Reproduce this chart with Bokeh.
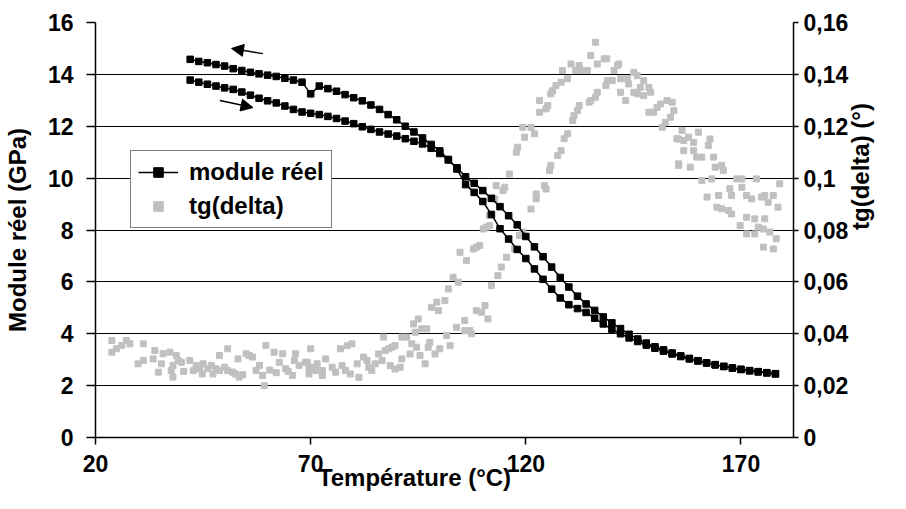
import math
from bokeh.plotting import figure
from bokeh.models import (Range1d, LinearAxis, FixedTicker, Arrow, NormalHead,
                          Legend, LegendItem)
from bokeh.embed import file_html
from bokeh.resources import INLINE

# ---------------- data ----------------
temperature = [42, 44, 46, 48, 50, 52, 54, 56, 58, 60, 62, 64, 66, 68, 70, 72, 74, 76,
               78, 80, 82, 84, 86, 88, 90, 92, 94, 96, 98, 100, 102, 104, 106, 108, 110,
               112, 114, 116, 118, 120, 122, 124, 126, 128, 130, 132, 134, 136, 138, 140,
               142, 144, 146, 148, 150, 152, 154, 156, 158, 160, 162, 164, 166, 168, 170,
               172, 174, 176, 178]

module_cooling = [14.58, 14.50, 14.45, 14.38, 14.32, 14.22, 14.15, 14.08, 14.02, 13.97,
                  13.92, 13.85, 13.78, 13.70, 13.25, 13.55, 13.45, 13.35, 13.22, 13.10,
                  12.98, 12.82, 12.65, 12.45, 12.25, 12.00, 11.78, 11.55, 11.30, 11.05,
                  10.72, 10.35, 9.75, 9.45, 9.10, 8.60, 8.05, 7.65, 7.25, 6.90,
                  6.50, 6.10, 5.72, 5.38, 5.12, 4.97, 4.82, 4.60, 4.38, 4.17,
                  4.00, 3.84, 3.70, 3.56, 3.44, 3.33, 3.22, 3.12, 3.03, 2.95,
                  2.87, 2.80, 2.74, 2.68, 2.63, 2.58, 2.54, 2.50, 2.46]

module_heating = [13.78, 13.70, 13.62, 13.55, 13.48, 13.42, 13.32, 13.20, 13.08, 12.98,
                  12.90, 12.78, 12.65, 12.55, 12.50, 12.45, 12.38, 12.30, 12.20, 12.10,
                  11.98, 11.88, 11.78, 11.70, 11.62, 11.52, 11.42, 11.32, 11.15, 10.95,
                  10.70, 10.40, 10.05, 9.80, 9.52, 9.22, 8.90, 8.55, 8.20, 7.75,
                  7.35, 6.97, 6.57, 6.17, 5.80, 5.45, 5.15, 4.90, 4.65, 4.42,
                  4.20, 3.98, 3.80, 3.64, 3.50, 3.38, 3.26, 3.15, 3.05, 2.96,
                  2.88, 2.81, 2.74, 2.68, 2.62, 2.57, 2.53, 2.49, 2.45]

tgd_temperature = [
    23.8, 23.8, 24.9, 26.1, 27.2, 28.0, 31.1, 29.9, 31.1, 33.4, 33.8, 34.6, 35.3, 35.7,
    37.3, 37.6, 38.0, 38.0, 38.8, 39.2, 40.0, 41.9, 42.7, 43.4, 44.2, 45.0, 46.1, 46.9,
    48.0, 48.8, 50.0, 50.7, 51.9, 53.4, 48.8, 50.7, 53.1, 55.0, 55.7, 56.5, 57.3, 58.1,
    58.8, 59.2, 59.6, 61.5, 62.7, 63.5, 64.2, 65.8, 66.2, 66.5, 67.3, 68.8, 69.6, 70.0,
    71.2, 72.7, 40.5, 44.8, 47.3, 52.5, 54.2, 60.5, 62.0, 64.8,
    69.2, 70.4, 69.6, 71.5, 73.5, 72.7, 75.0, 75.8, 76.9, 77.3, 78.5, 79.6, 78.1, 79.2,
    80.8, 81.2, 82.3, 83.1, 83.5, 84.2, 85.0, 85.8, 86.6, 86.9, 87.3, 88.1, 88.9, 89.6,
    88.5, 89.6, 90.8, 91.2, 91.2, 92.3, 93.1, 93.5, 93.9, 94.3, 94.6, 95.0, 95.4, 95.8,
    96.6, 97.0, 97.3, 97.7, 98.1, 98.9, 99.3, 99.7, 100.0, 101.2, 101.6, 102.0, 102.4,
    103.1, 103.9, 104.3, 104.7, 105.8, 105.8, 106.2, 107.0, 107.4, 107.8, 108.5, 109.3,
    108.5, 109.7, 110.1, 110.5, 111.2, 111.6, 112.0, 113.5, 114.3, 115.5, 117.4, 118.5,
    119.3,
    136.2, 135.1, 136.6, 138.2, 138.8, 141.6, 130.5, 132.4, 131.6, 132.8, 134.3, 128.5,
    129.7, 128.2, 127.0, 126.2, 125.8, 123.2, 125.1, 124.7, 123.2, 132.4, 132.0, 131.2,
    130.9, 135.1, 136.2, 136.6, 138.6, 139.0, 140.1, 140.5, 142.0, 141.3, 143.6, 143.9,
    145.1, 145.9, 147.4, 146.6, 145.1, 145.9, 147.4, 148.6, 149.0, 142.0, 143.2, 148.6,
    149.7, 150.5, 151.3, 152.8, 154.0, 154.4, 153.6, 152.4, 151.7, 155.1, 155.5, 119.3,
    121.2, 122.0, 119.7, 118.1, 117.8, 116.2, 129.7, 128.9, 128.2, 127.4, 125.8, 125.5,
    124.3, 122.4, 122.4, 121.2, 113.1, 115.1, 114.7, 112.8, 111.6, 110.8, 124.7, 134.7,
    156.3, 155.5, 156.7, 157.8, 159.0, 160.1, 162.8, 162.4, 156.7, 159.0, 159.7, 160.9,
    163.6, 155.5, 158.2, 164.0, 165.5, 165.9, 160.9, 163.2, 169.0, 170.2, 173.6, 179.0,
    167.4, 170.2, 162.1, 164.8, 167.8, 171.3, 172.5, 174.8, 175.5, 177.5, 176.3, 178.6,
    164.4, 165.5, 167.1, 167.8, 171.3, 173.2, 175.5, 169.8, 174.0, 175.2, 176.7, 178.2,
    171.3, 173.2, 175.2, 177.5]

tgd_value = [
    0.0374, 0.0329, 0.0342, 0.0355, 0.0374, 0.0361, 0.0361, 0.0284, 0.0297, 0.0303, 0.0335, 0.0252, 0.0284, 0.0323,
    0.0329, 0.0258, 0.0233, 0.0278, 0.0316, 0.0297, 0.0290, 0.0297, 0.0258, 0.0278, 0.0265, 0.0284, 0.0265, 0.0278,
    0.0265, 0.0258, 0.0271, 0.0258, 0.0252, 0.0233, 0.0316, 0.0342, 0.0303, 0.0323, 0.0316, 0.0310, 0.0258, 0.0278,
    0.0239, 0.0200, 0.0355, 0.0329, 0.0290, 0.0323, 0.0265, 0.0239, 0.0297, 0.0323, 0.0278, 0.0290, 0.0271, 0.0342,
    0.0258, 0.0239, 0.0255, 0.0245, 0.0245, 0.0245, 0.0242, 0.0260, 0.0250, 0.0255,
    0.0290, 0.0271, 0.0245, 0.0284, 0.0303, 0.0258, 0.0271, 0.0252, 0.0342, 0.0277, 0.0354, 0.0361, 0.0258, 0.0245,
    0.0284, 0.0232, 0.0310, 0.0297, 0.0271, 0.0258, 0.0284, 0.0322, 0.0297, 0.0387, 0.0335, 0.0342, 0.0348, 0.0354,
    0.0277, 0.0264, 0.0271, 0.0303, 0.0387, 0.0387, 0.0322, 0.0361, 0.0438, 0.0406, 0.0348, 0.0457, 0.0316, 0.0419,
    0.0284, 0.0419, 0.0348, 0.0367, 0.0502, 0.0322, 0.0522, 0.0489, 0.0342, 0.0528, 0.0393, 0.0573, 0.0354,
    0.0618, 0.0425, 0.0599, 0.0714, 0.0412, 0.0451, 0.0682, 0.0412, 0.0400, 0.0727, 0.0734, 0.0740,
    0.0489, 0.0483, 0.0804, 0.0509, 0.0457, 0.0817, 0.0586, 0.0624, 0.0657, 0.0695, 0.0727, 0.0779,
    0.0792,
    0.1524, 0.1473, 0.1440, 0.1460, 0.1460, 0.1440, 0.1440, 0.1434, 0.1415, 0.1415, 0.1415, 0.1415,
    0.1383, 0.1370, 0.1357, 0.1337, 0.1325, 0.1299, 0.1280, 0.1267, 0.1254, 0.1280, 0.1260, 0.1241,
    0.1222, 0.1299, 0.1312, 0.1331, 0.1357, 0.1376, 0.1376, 0.1415, 0.1383, 0.1434, 0.1383, 0.1363,
    0.1408, 0.1395, 0.1376, 0.1350, 0.1331, 0.1325, 0.1318, 0.1350, 0.1331, 0.1331, 0.1299, 0.1254,
    0.1254, 0.1273, 0.1286, 0.1299, 0.1293, 0.1260, 0.1235, 0.1215, 0.1196, 0.1152, 0.1055, 0.1196,
    0.1196, 0.1171, 0.1158, 0.1119, 0.1100, 0.1016, 0.1171, 0.1152, 0.1106, 0.1087, 0.1049, 0.1029,
    0.0971, 0.0939, 0.0920, 0.0881, 0.0971, 0.0965, 0.0952, 0.0920, 0.0856, 0.0811, 0.0958, 0.1293,
    0.1184, 0.1151, 0.1145, 0.1158, 0.1138, 0.1177, 0.1151, 0.1126, 0.1106, 0.1106, 0.1081, 0.1081,
    0.1081, 0.1049, 0.1042, 0.1042, 0.1049, 0.1029, 0.0991, 0.0997, 0.0997, 0.0997, 0.0997, 0.0978,
    0.0959, 0.0965, 0.0927, 0.0933, 0.0933, 0.0933, 0.0920, 0.0927, 0.0933, 0.0933, 0.0907, 0.0888,
    0.0888, 0.0882, 0.0875, 0.0862, 0.0849, 0.0843, 0.0843, 0.0817, 0.0811, 0.0804, 0.0792, 0.0766,
    0.0785, 0.0785, 0.0734, 0.0727]

x_ticks = [20, 70, 120, 170]
x_tick_labels = ["20", "70", "120", "170"]
module_ticks = [0, 2, 4, 6, 8, 10, 12, 14, 16]
module_tick_labels = ["0", "2", "4", "6", "8", "10", "12", "14", "16"]
tgd_ticks = [0, 0.02, 0.04, 0.06, 0.08, 0.1, 0.12, 0.14, 0.16]
tgd_tick_labels = ["0", "0,02", "0,04", "0,06", "0,08", "0,1", "0,12", "0,14", "0,16"]

# arrow annotations (temperature, module)
arrow_cool = dict(x_start=58.9, y_start=14.8, x_end=51.6, y_end=15.0)
arrow_heat = dict(x_start=48.9, y_start=12.99, x_end=56.6, y_end=12.72)

FONT = "Liberation Sans"
FS = "23px"
TITLE_FS = "24px"

# ---------------- figure ----------------
p = figure(width=890, height=493, x_range=Range1d(20, 182.2), y_range=Range1d(0, 16),
           output_backend="svg", toolbar_location=None,
           min_border_left=92, min_border_right=84, min_border_top=22, min_border_bottom=56)
p.extra_y_ranges = {"tan": Range1d(0, 0.16)}
p.outline_line_color = None
p.background_fill_color = "white"
p.border_fill_color = "white"

p.xgrid.visible = False
p.ygrid.ticker = FixedTicker(ticks=module_ticks)
p.ygrid.grid_line_color = "black"
p.ygrid.grid_line_width = 1.2

right_axis = LinearAxis(y_range_name="tan")
p.add_layout(right_axis, "right")

xa = p.xaxis[0]
xa.ticker = FixedTicker(ticks=x_ticks)
xa.major_label_overrides = dict(zip(x_ticks, x_tick_labels))
xa.major_tick_out = 7
xa.major_tick_in = 0
xa.major_label_standoff = 10
xa.axis_label = "Température (°C)" + "\u00a0" * 9
xa.axis_label_standoff = -11

la = p.yaxis[0]
la.ticker = FixedTicker(ticks=module_ticks)
la.major_label_overrides = dict(zip(module_ticks, module_tick_labels))
la.major_tick_out = 9
la.major_tick_in = 0
la.major_label_standoff = 13
la.axis_label = "Module réel (GPa)"
la.axis_label_standoff = 14

right_axis.ticker = FixedTicker(ticks=tgd_ticks)
right_axis.major_label_overrides = dict(zip(tgd_ticks, tgd_tick_labels))
right_axis.major_tick_out = 5
right_axis.major_tick_in = 0
right_axis.major_label_standoff = 5
right_axis.axis_label = "tg(delta) (°)"
right_axis.axis_label_standoff = 9
right_axis.axis_label_orientation = math.pi / 2

for ax in (xa, la, right_axis):
    ax.axis_line_color = "black"
    ax.axis_line_width = 1.5
    ax.major_tick_line_color = "black"
    ax.major_tick_line_width = 1.5
    ax.minor_tick_line_color = None
    ax.major_label_text_font = FONT
    ax.major_label_text_font_style = "bold"
    ax.major_label_text_font_size = FS
    ax.major_label_text_color = "black"
    ax.axis_label_text_font = FONT
    ax.axis_label_text_font_style = "bold"
    ax.axis_label_text_font_size = TITLE_FS
    ax.axis_label_text_color = "black"

# ---------------- data renderers ----------------
tg = p.scatter(tgd_temperature, tgd_value, y_range_name="tan", marker="square",
               size=6, color="#c0c0c0")

l1 = p.line(temperature, module_cooling, line_color="black", line_width=1.5)
s1 = p.scatter(temperature, module_cooling, marker="square", size=6.5, color="black")
l2 = p.line(temperature, module_heating, line_color="black", line_width=1.5)
s2 = p.scatter(temperature, module_heating, marker="square", size=6.5, color="black")

for a in (arrow_cool, arrow_heat):
    p.add_layout(Arrow(end=NormalHead(size=12, fill_color="black", line_color="black"),
                       line_color="black", line_width=1.5, **a))

legend = Legend(items=[LegendItem(label="module réel", renderers=[l1, s1]),
                       LegendItem(label="tg(delta)", renderers=[tg])],
                location=(35, 209))
legend.label_text_font = FONT
legend.label_text_font_style = "bold"
legend.label_text_font_size = "24px"
legend.label_text_color = "black"
legend.border_line_color = "black"
legend.border_line_width = 1
legend.background_fill_color = "white"
legend.background_fill_alpha = 1
legend.glyph_width = 40
legend.glyph_height = 24
legend.label_height = 24
legend.spacing = 6
legend.padding = 7
legend.label_standoff = 11
legend.margin = 0
p.add_layout(legend)

open("out.html", "w").write(file_html(p, INLINE))
